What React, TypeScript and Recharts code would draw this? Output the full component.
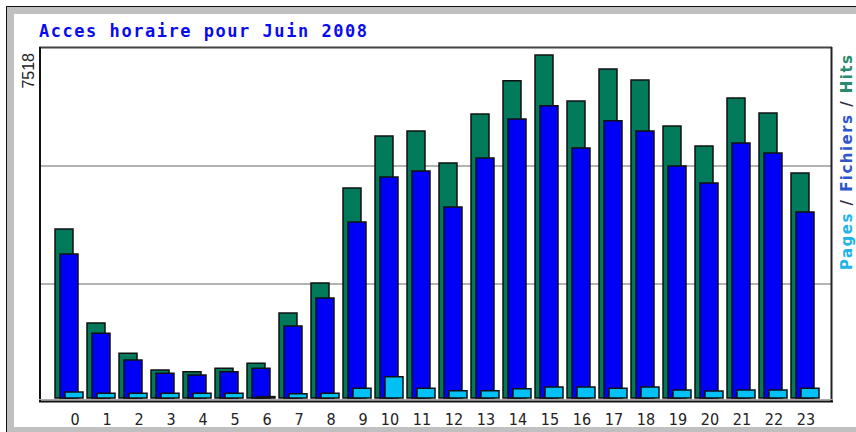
import { BarChart, Bar, XAxis, YAxis } from "recharts";

const hours = ["0", "1", "2", "3", "4", "5", "6", "7", "8", "9", "10", "11", "12", "13", "14", "15", "16", "17", "18", "19", "20", "21", "22", "23"];
const hits = [3630, 1611, 960, 601, 565, 638, 745, 1826, 2470, 4511, 5628, 5735, 5048, 6100, 6816, 7368, 6380, 7067, 6831, 5843, 5413, 6444, 6122, 4833];
const fichiers = [3093, 1390, 816, 531, 494, 565, 638, 1547, 2148, 3780, 4747, 4876, 4103, 5155, 5993, 6279, 5370, 5957, 5735, 4983, 4618, 5478, 5263, 3995];
const pages = [129, 101, 101, 101, 101, 101, 30, 90, 101, 208, 458, 208, 157, 157, 200, 236, 236, 208, 236, 172, 150, 172, 172, 208];
const maxValue = 7518;

const data = hours.map((h, i) => ({ hour: h, hits: hits[i], fichiers: fichiers[i], pages: pages[i] }));

const GREEN = "#007a5a";
const BLUE = "#0000f8";
const CYAN = "#00c0f4";

function HourTick({ x, y, payload }: any) {
  const label = String(payload.value);
  const shift = label.length === 1 ? 6 : 1;
  return (
    <text
      x={x + shift}
      y={y + 19}
      textAnchor="middle"
      fontFamily="'DejaVu Sans Condensed', 'Liberation Sans Narrow', sans-serif"
      fontSize={16}
      fill="#222"
    >
      {label}
    </text>
  );
}

function Frame() {
  return (
    <svg width={856} height={432} style={{ position: "absolute", left: 0, top: 0 }}>
      <rect x={0} y={0} width={856} height={432} fill="#fff" />
      {/* outer window frame */}
      <rect x={7} y={7} width={849} height={7} fill="#c0c0c0" />
      <rect x={7} y={7} width={7} height={425} fill="#c0c0c0" />
      <rect x={7} y={427} width={849} height={5} fill="#c0c0c0" />
      <line x1={6.5} y1={6} x2={6.5} y2={432} stroke="#111" />
      <line x1={6} y1={6.5} x2={856} y2={6.5} stroke="#111" />

      {/* plot box */}
      <line x1={41} y1={166} x2={831} y2={166} stroke="#999" strokeWidth={1.5} />
      <line x1={41} y1={284} x2={831} y2={284} stroke="#999" strokeWidth={1.5} />
      <line x1={39} y1={47.5} x2={832} y2={47.5} stroke="#444" strokeWidth={2} />
      <line x1={40} y1={47} x2={40} y2={402} stroke="#111" strokeWidth={2} />
      <line x1={831.5} y1={47} x2={831.5} y2={402} stroke="#222" strokeWidth={2} />
      <line x1={39} y1={399.5} x2={832} y2={399.5} stroke="#aaa" />
      <line x1={39} y1={401.5} x2={833} y2={401.5} stroke="#111" strokeWidth={2} />

      <text
        x={39}
        y={37}
        fontFamily="'DejaVu Sans Mono', monospace"
        fontWeight="bold"
        fontSize={17}
        textLength={328}
        lengthAdjust="spacing"
        fill="#0a0aee"
      >
        Acces horaire pour Juin 2008
      </text>

      <text
        transform="translate(33.5, 53) rotate(-90)"
        textAnchor="end"
        fontFamily="'Liberation Sans', sans-serif"
        fontSize={16}
        fill="#222"
      >
        {maxValue}
      </text>

      <text
        transform="translate(852, 270) rotate(-90)"
        fontFamily="'DejaVu Sans', sans-serif"
        fontWeight="bold"
        fontSize={15}
        textLength={215}
        lengthAdjust="spacing"
      >
        <tspan fill="#22b4e8">Pages</tspan>
        <tspan fill="#334">{" / "}</tspan>
        <tspan fill="#2f55cc">Fichiers</tspan>
        <tspan fill="#334">{" / "}</tspan>
        <tspan fill="#2a8a6c">Hits</tspan>
      </text>
    </svg>
  );
}

export default function App() {
  return (
    <div style={{ position: "absolute", left: 0, top: 0, width: 856, height: 432, background: "#fff", overflow: "hidden" }}>
      <Frame />
      <div style={{ position: "absolute", left: 0, top: 0 }}>
        <BarChart
          width={856}
          height={432}
          data={data}
          margin={{ top: 48, right: 25, bottom: 4, left: 39 }}
          barSize={18}
          barGap={-13}
        >
          <XAxis
            dataKey="hour"
            height={30}
            interval={0}
            axisLine={false}
            tickLine={false}
            padding={{ left: 14, right: 10 }}
            tick={<HourTick />}
          />
          <YAxis hide domain={[0, maxValue]} />
          <Bar dataKey="hits" fill={GREEN} stroke="#111" strokeWidth={1.5} isAnimationActive={false} />
          <Bar dataKey="fichiers" fill={BLUE} stroke="#111" strokeWidth={1.5} isAnimationActive={false} />
          <Bar dataKey="pages" fill={CYAN} stroke="#111" strokeWidth={1.5} isAnimationActive={false} />
        </BarChart>
      </div>
    </div>
  );
}
